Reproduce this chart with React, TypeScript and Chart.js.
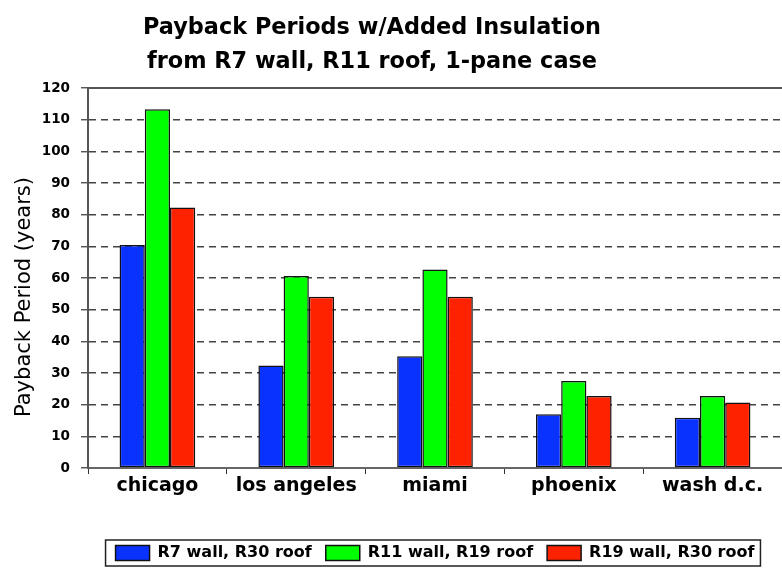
import React, { useEffect, useRef } from "react";
import { Chart, registerables } from "chart.js";

Chart.register(...registerables);

const TITLE_LINES = ["Payback Periods w/Added Insulation", "from R7 wall, R11 roof, 1-pane case"];
const Y_TITLE = "Payback Period (years)";
const CATEGORIES = ["chicago", "los angeles", "miami", "phoenix", "wash d.c."];
const SERIES_NAMES = ["R7 wall, R30 roof", "R11 wall, R19 roof", "R19 wall, R30 roof"];
const R7_R30 = [70.4, 32.4, 35.3, 17.0, 15.9];
const R11_R19 = [113.3, 60.6, 62.7, 27.5, 22.7];
const R19_R30 = [82.3, 54.1, 54.1, 22.7, 20.7];
const COLORS = ["#0a32ff", "#00ff00", "#ff2200"];
const Y_MIN = 0;
const Y_MAX = 120;
const Y_STEP = 10;

const FONT = '"DejaVu Sans", Verdana, sans-serif';

const decorPlugin = {
  id: "decor",
  afterDraw(chart: any) {
    const ctx = chart.ctx;
    const area = chart.chartArea;
    ctx.save();
    // title
    ctx.fillStyle = "#000";
    ctx.textAlign = "center";
    ctx.textBaseline = "alphabetic";
    ctx.font = `bold 22.4px ${FONT}`;
    ctx.fillText(TITLE_LINES[0], 372, 34);
    ctx.fillText(TITLE_LINES[1], 372, 68);
    // y axis title
    ctx.save();
    ctx.translate(25, 297);
    ctx.rotate(-Math.PI / 2);
    ctx.font = `21px ${FONT}`;
    ctx.textBaseline = "middle";
    ctx.fillText(Y_TITLE, 0, 0);
    ctx.restore();
    // solid top line
    ctx.strokeStyle = "#555";
    ctx.lineWidth = 2;
    ctx.beginPath();
    ctx.moveTo(area.left, area.top);
    ctx.lineTo(area.right, area.top);
    ctx.stroke();
    // legend frame
    const lg = chart.legend;
    if (lg && lg.legendHitBoxes && lg.legendHitBoxes.length) {
      const hb = lg.legendHitBoxes;
      const first = hb[0];
      const last = hb[hb.length - 1];
      const x1 = first.left - 10;
      const x2 = last.left + last.width + 6;
      const y1 = first.top - 5;
      const y2 = first.top + first.height + 5;
      ctx.strokeStyle = "#222";
      ctx.lineWidth = 1.5;
      ctx.strokeRect(x1, y1, x2 - x1, y2 - y1);
    }
    ctx.restore();
  },
};

export default function App() {
  const ref = useRef<HTMLCanvasElement | null>(null);
  useEffect(() => {
    if (!ref.current) return;
    const series = [R7_R30, R11_R19, R19_R30];
    const chart = new Chart(ref.current, {
      type: "bar",
      data: {
        labels: CATEGORIES,
        datasets: series.map((d, i) => ({
          label: SERIES_NAMES[i],
          data: d,
          backgroundColor: COLORS[i],
          borderColor: "#111",
          borderWidth: 1.5,
          borderSkipped: false,
          categoryPercentage: 0.545,
          barPercentage: 1,
        })),
      },
      options: {
        responsive: false,
        animation: false,
        devicePixelRatio: 1,
        layout: { padding: { top: 88, left: 0, right: 0, bottom: 5 } },
        plugins: {
          title: { display: false },
          tooltip: { enabled: false },
          legend: {
            display: true,
            position: "bottom",
            fullSize: false,
            labels: {
              boxWidth: 34,
              boxHeight: 15,
              padding: 14,
              color: "#000",
              font: { family: FONT, size: 16, weight: "bold" },
            },
          },
        },
        scales: {
          x: {
            afterFit: (s: any) => {
              s.height = 63;
            },
            grid: {
              display: true,
              offset: true,
              drawOnChartArea: false,
              drawTicks: true,
              tickLength: 6,
              color: "#333",
            },
            border: { display: true, color: "#666", width: 2 },
            ticks: {
              color: "#000",
              padding: 1,
              font: { family: FONT, size: 19, weight: "bold" },
              maxRotation: 0,
              autoSkip: false,
            },
          },
          y: {
            min: Y_MIN,
            max: Y_MAX,
            afterFit: (s: any) => {
              s.width = 88;
            },
            grid: {
              display: true,
              color: "#444",
              lineWidth: 1.5,
              tickLength: 7,
              tickColor: "#444",
              tickWidth: 1.3,
              tickBorderDash: [],
            },
            border: { display: true, color: "#555", width: 2, dash: [7, 5] },
            ticks: {
              stepSize: Y_STEP,
              color: "#000",
              padding: 11,
              font: { family: FONT, size: 13.5, weight: "bold" },
            },
          },
        },
      },
      plugins: [decorPlugin],
    } as any);
    return () => chart.destroy();
  }, []);
  return (
    <div style={{ position: "absolute", left: 0, top: 0, width: 782, height: 576, background: "#fff" }}>
      <canvas ref={ref} width={782} height={576} style={{ display: "block" }} />
    </div>
  );
}
